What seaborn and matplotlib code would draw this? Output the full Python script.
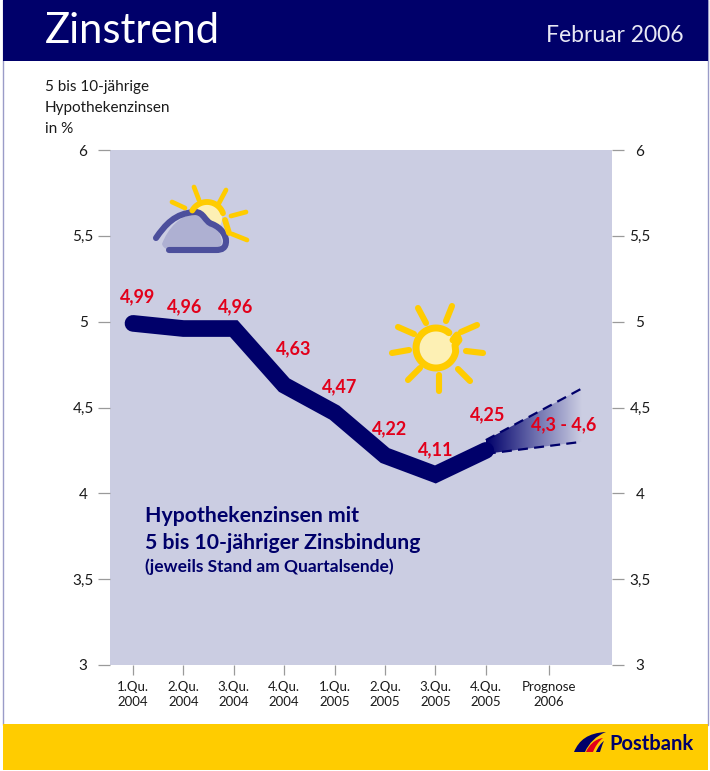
import numpy as np
import pandas as pd
import seaborn as sns
import matplotlib.pyplot as plt
from matplotlib.patches import Polygon, Rectangle, PathPatch
from matplotlib.path import Path

# Daten
quarters = ['1.Qu.\n2004', '2.Qu.\n2004', '3.Qu.\n2004', '4.Qu.\n2004',
            '1.Qu.\n2005', '2.Qu.\n2005', '3.Qu.\n2005', '4.Qu.\n2005', 'Prognose\n2006']
quarter_pos = [0, 1, 2, 3, 4, 5, 6, 7, 8.25]
rates = [4.99, 4.96, 4.96, 4.63, 4.47, 4.22, 4.11, 4.25]
rate_labels = ['4,99', '4,96', '4,96', '4,63', '4,47', '4,22', '4,11', '4,25']
forecast_x = [7, 8.9]
forecast_low = [4.23, 4.30]
forecast_high = [4.31, 4.61]
y_ticks = [3, 3.5, 4, 4.5, 5, 5.5, 6]
y_labels = ['3', '3,5', '4', '4,5', '5', '5,5', '6']

NAVY = '#00006a'
RED = '#e2001a'
YELLOW = '#ffcc00'
PALE = '#fdf0b4'
PLOT_BG = '#cbcde2'
GREY = '#9a9a9a'
EDGE = '#9a9cc8'
CLOUD = '#4c4f9c'
W, H = 710, 771

sns.set_theme(style='white')
plt.rcParams['font.family'] = ['Lato', 'DejaVu Sans']

fig = plt.figure(figsize=(W / 100, H / 100), dpi=100)

# Hintergrund in Pixelkoordinaten
bg = fig.add_axes([0, 0, 1, 1], zorder=0)
bg.set_xlim(0, W)
bg.set_ylim(H, 0)
bg.axis('off')
bg.add_patch(Rectangle((3, 0), 705, 725, fc='white', ec=EDGE, lw=1))
bg.add_patch(Rectangle((3, 0), 705, 61, fc=NAVY, ec='none'))
bg.add_patch(Rectangle((3, 724), 705, 46, fc=YELLOW, ec='none'))
bg.text(45, 31, 'Zinstrend', color='white', fontsize=30, va='center', ha='left')
bg.text(684, 35, 'Februar 2006', color='#e8e8f4', fontsize=16.5, va='center', ha='right')
bg.text(45, 87, '5 bis 10-jährige', color='#1a1a1a', fontsize=11, va='center')
bg.text(45, 108, 'Hypothekenzinsen', color='#1a1a1a', fontsize=11, va='center')
bg.text(45, 129, 'in %', color='#1a1a1a', fontsize=11, va='center')

# Diagramm
ax = fig.add_axes([110 / W, 1 - 665 / H, 502 / W, 515 / H], zorder=1)
ax.set_facecolor(PLOT_BG)
for s in ax.spines.values():
    s.set_visible(False)

df = pd.DataFrame({'pos': quarter_pos[:len(rates)], 'rate': rates})

# Prognose-Faecher mit Farbverlauf
fan = Polygon(list(zip(forecast_x, forecast_low)) + list(zip(forecast_x[::-1], forecast_high[::-1])),
              closed=True, transform=ax.transData, fc='none', ec='none')
ax.add_patch(fan)
grad = np.linspace(0, 1, 256).reshape(1, -1)
cmap = sns.blend_palette([NAVY, '#6a6cac', PLOT_BG], as_cmap=True)
img = ax.imshow(grad, extent=[forecast_x[0], forecast_x[1], 4.2, 4.65], aspect='auto',
                cmap=cmap, zorder=2)
img.set_clip_path(fan)
ax.plot(forecast_x, forecast_high, color=NAVY, lw=1.6, ls=(0, (4.5, 2.8)), zorder=3)
ax.plot(forecast_x, forecast_low, color=NAVY, lw=1.6, ls=(0, (4.5, 2.8)), zorder=3)

sns.lineplot(data=df, x='pos', y='rate', ax=ax, color=NAVY, linewidth=12, zorder=4,
             solid_capstyle='round', solid_joinstyle='miter', errorbar=None, sort=False)

ax.set_xlim(-23 / 50.4, 479 / 50.4)
ax.set_ylim(3, 6)
ax.set_xlabel('')
ax.set_ylabel('')
ax.set_xticks(quarter_pos)
ax.set_xticklabels(quarters, fontsize=9.5, color='#1a1a1a', linespacing=1.3)
ax.set_yticks(y_ticks)
ax.set_yticklabels(y_labels, fontsize=11, color='#1a1a1a', ha='center')
ax.tick_params(axis='x', length=7, width=0.9, color=GREY, bottom=True, pad=4.5)
ax.tick_params(axis='y', length=8.6, width=0.9, color=GREY, left=True, pad=10.8)

# rechte Achse
ax2 = ax.twinx()
ax2.set_ylim(3, 6)
ax2.set_yticks(y_ticks)
ax2.set_yticklabels(y_labels, fontsize=11, color='#1a1a1a', ha='center')
ax2.tick_params(axis='y', length=8.6, width=0.9, color=GREY, right=True, pad=11.5)
for s in ax2.spines.values():
    s.set_visible(False)
ax2.grid(False)
ax.grid(False)

# Werte-Beschriftung, Versatz in Punkten
label_dx = [3, 1, 1.5, 7, 3.5, 3, 0, 1]
label_dy = [19.5, 15.5, 15.5, 26.5, 19, 19, 18, 25.5]
for p, v, t, dx, dy in zip(quarter_pos, rates, rate_labels, label_dx, label_dy):
    ax.annotate(t, (p, v), xytext=(dx, dy), textcoords='offset points', ha='center', va='center',
                color=RED, fontsize=13, fontweight='bold', zorder=6)
ax.annotate('4,3 - 4,6', (8.9, 4.3), xytext=(-12.7, 12), textcoords='offset points', ha='center',
            va='center', color=RED, fontsize=13, fontweight='bold', zorder=6)

# Symbole und Texte oben
fg = fig.add_axes([0, 0, 1, 1], zorder=3)
fg.set_xlim(0, W)
fg.set_ylim(H, 0)
fg.axis('off')
fg.patch.set_alpha(0)


def stroke(pts, color, lw):
    xs, ys = zip(*pts)
    fg.plot(xs, ys, color=color, lw=lw, solid_capstyle='round', solid_joinstyle='round')


def arc(cx, cy, r, a0, a1):
    t = np.radians(np.linspace(a0, a1, 60))
    return list(zip(cx + r * np.cos(t), cy - r * np.sin(t)))


def curve(verts, **kw):
    # erster Punkt, danach je drei Bezier-Punkte
    codes = [Path.MOVETO] + [Path.CURVE4] * (len(verts) - 1)
    fg.add_patch(PathPatch(Path(verts, codes), **kw))


# kleine Sonne mit Wolke
fg.add_patch(plt.Circle((207, 218), 15, fc=PALE, ec='none'))
stroke(arc(207, 219, 17, 20, 150), YELLOW, 4.2)
stroke([(225, 220), (229, 233)], YELLOW, 4.2)
for a, b in [((172, 202), (185, 208)), ((194, 187), (199, 200)), ((226, 190), (218, 205)),
             ((246, 212), (231, 216)), ((247, 240), (232, 234))]:
    stroke([a, b], YELLOW, 3.4)
curve([(162, 244), (168, 228), (180, 215), (197, 213),
       (206, 222), (218, 224), (221, 238),
       (224, 246), (218, 248), (212, 248),
       (190, 248), (175, 249), (168, 249),
       (165, 249), (163, 247), (162, 244)], fc='#aeb0d2', ec='none')
curve([(156, 238), (165, 225), (175, 213), (195, 212),
       (204, 212), (205, 222), (212, 224),
       (222, 228), (226, 236), (226, 241),
       (226, 248), (222, 250), (216, 250),
       (200, 250), (185, 250), (169, 250)], fc='none', ec=CLOUD, lw=4.4, capstyle='round')

# grosse Sonne
fg.add_patch(plt.Circle((437, 348), 17.5, fc=PALE, ec='none'))
stroke(arc(436, 348, 20, 50, 350) + [(455, 345), (459, 340), (457, 335), (453, 340)], YELLOW, 5)
for a, b in [((418, 308), (426, 323)), ((452, 306), (446, 321)), ((477, 325), (461, 332)),
             ((483, 353), (466, 351)), ((470, 381), (458, 369)), ((439, 391), (439, 375)),
             ((408, 380), (420, 368)), ((392, 353), (409, 350)), ((398, 327), (414, 334))]:
    stroke([a, b], YELLOW, 4.4)

fg.text(145, 516, 'Hypothekenzinsen mit', color=NAVY, fontsize=15.3, fontweight='bold', va='center')
fg.text(145, 543, '5 bis 10-jähriger Zinsbindung', color=NAVY, fontsize=15.3, fontweight='bold', va='center')
fg.text(145, 567, '(jeweils Stand am Quartalsende)', color=NAVY, fontsize=12.5, fontweight='bold', va='center')

# Postbank-Logo
curve([(574, 752), (579, 740), (588, 733), (606, 732),
       (596, 736), (589, 743), (585, 752),
       (582, 752), (577, 752), (574, 752)], fc=NAVY, ec='none')
curve([(586, 752), (589, 745), (595, 739), (603, 738),
       (598, 742), (595, 747), (593, 752),
       (591, 752), (588, 752), (586, 752)], fc=RED, ec='none')
curve([(596, 752), (598, 747), (601, 743), (604, 741),
       (602, 745), (601, 749), (600, 752),
       (599, 752), (597, 752), (596, 752)], fc=NAVY, ec='none')
fg.text(694, 744, 'Postbank', color=NAVY, fontsize=14.5, fontweight='bold', ha='right', va='center')

fig.savefig('out.png', dpi=100)
